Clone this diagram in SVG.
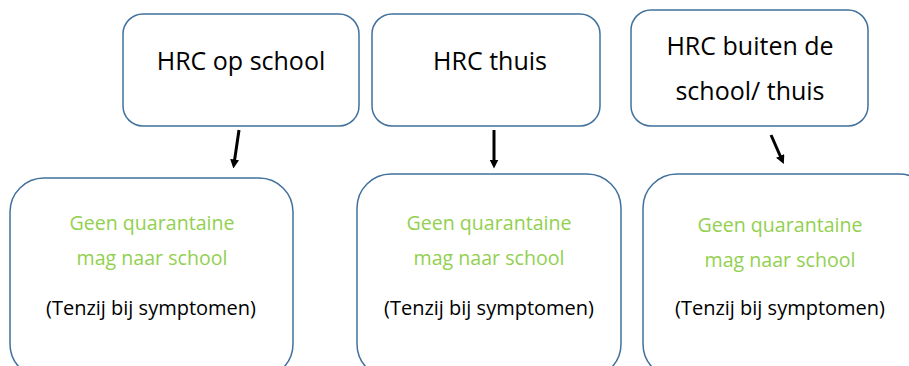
<svg xmlns="http://www.w3.org/2000/svg" width="909" height="366" viewBox="0 0 909 366">
<style>
.box{fill:#fff;stroke:#41719c;stroke-width:1.5}
.t{font-family:"Open Sans","Liberation Sans",sans-serif;text-anchor:middle}
.h{font-size:25px;fill:#000}
.g{font-size:19.6px;fill:#92d050}
.s{font-size:20px;fill:#000}
.arr{stroke:#000;stroke-width:3;fill:none;marker-end:url(#ah)}
</style>
<defs>
<marker id="ah" viewBox="0 0 10 10" refX="5" refY="5" markerWidth="3" markerHeight="3" orient="auto" markerUnits="strokeWidth">
<path d="M0,0 L10,5 L0,10 z" fill="#000"/>
</marker>
</defs>
<rect width="909" height="366" fill="#fff"/>
<g id="top1"><rect class="box" x="123" y="14" width="236" height="112" rx="20"/><text class="t h" x="241" y="70">HRC op school</text></g>
<g id="top2"><rect class="box" x="372" y="14" width="228" height="112" rx="20"/><text class="t h" x="490" y="70">HRC thuis</text></g>
<g id="top3"><rect class="box" x="631" y="10" width="237" height="116" rx="20"/><text class="t h" x="750" y="55">HRC buiten de</text><text class="t h" x="750" y="100">school/ thuis</text></g>
<g id="bot1"><rect class="box" x="10" y="178" width="283" height="200" rx="34"/><text class="t g" x="152" y="230">Geen quarantaine</text><text class="t g" x="152" y="265">mag naar school</text><text class="t s" x="151" y="315">(Tenzij bij symptomen)</text></g>
<g id="bot2"><rect class="box" x="357" y="174" width="264" height="204" rx="34"/><text class="t g" x="489" y="230">Geen quarantaine</text><text class="t g" x="489" y="265">mag naar school</text><text class="t s" x="489" y="315">(Tenzij bij symptomen)</text></g>
<g id="bot3"><rect class="box" x="643" y="174" width="290" height="204" rx="34"/><text class="t g" x="780" y="232">Geen quarantaine</text><text class="t g" x="780" y="267">mag naar school</text><text class="t s" x="780" y="315">(Tenzij bij symptomen)</text></g>
<g id="connectors">
<line class="arr" x1="239" y1="130" x2="234" y2="164"/>
<line class="arr" x1="494" y1="130" x2="494" y2="164"/>
<line class="arr" x1="771" y1="135" x2="782" y2="160"/>
</g>
</svg>
